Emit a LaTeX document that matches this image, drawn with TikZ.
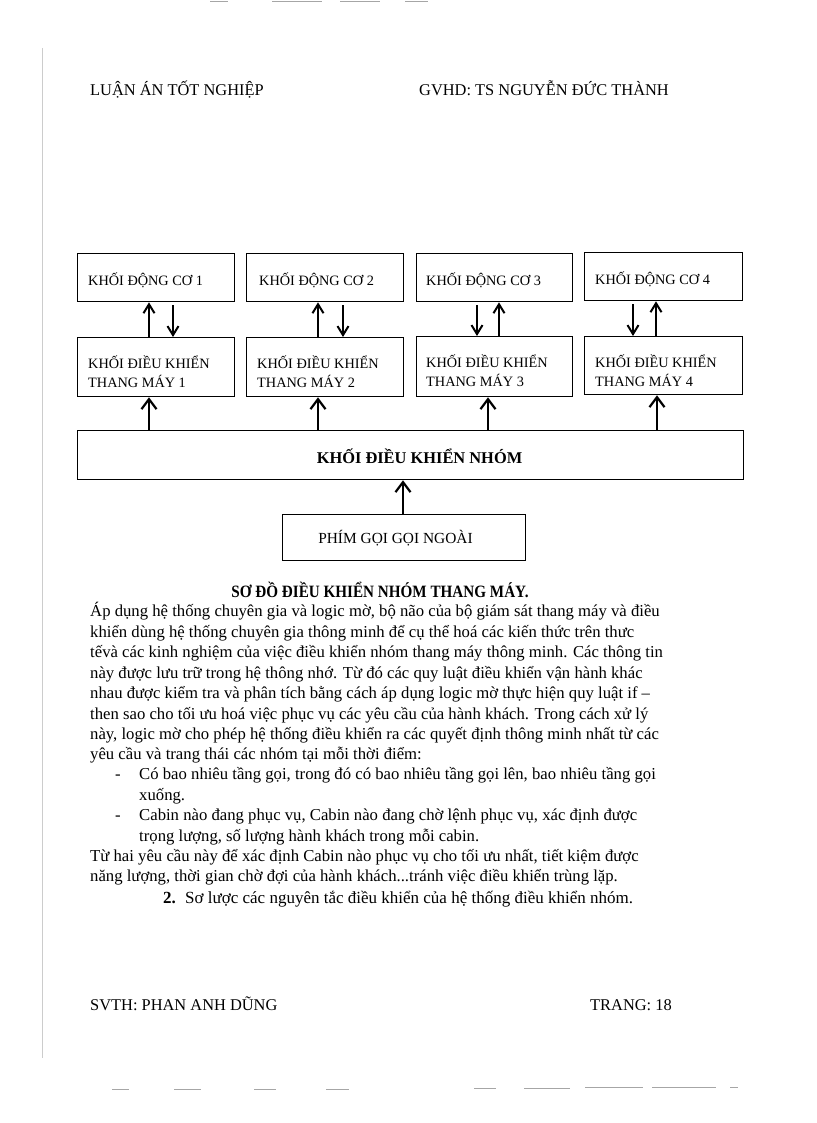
\documentclass[tikz,border=0pt]{standalone}
\usepackage{fontspec}
\setmainfont{Liberation Serif}
\usetikzlibrary{arrows.meta,calc}
\tikzset{
  box/.style={draw, line width=1.3pt, anchor=north west, inner sep=0pt},
  lbl/.style={anchor=base west, inner sep=0pt, align=left, font=\fontsize{14.3}{19}\selectfont},
  arr/.style={line width=2.6pt, -{Straight Barb[length=9pt,width=11pt,line width=2pt]}},
  garr/.style={line width=2.6pt, -{Straight Barb[length=10pt,width=15pt,line width=2.2pt]}},
  body/.style={anchor=base west, inner sep=0pt, font=\fontsize{16.7}{20.6}\selectfont},
  hdr/.style={anchor=base west, inner sep=0pt, font=\fontsize{16.4}{20}\selectfont},
  scan/.style={draw=black!35, line width=1pt},
}
\begin{document}
\begin{tikzpicture}[x=1pt,y=-1pt]
\useasboundingbox[fill=white] (0,0) rectangle (816,1123);
% scan artifacts
\draw[scan] (210,2) -- (228,2) (272,2) -- (322,2) (340,2) -- (380,2) (405,2) -- (428,2);
\draw[scan] (112,1089) -- (129,1089) (174,1089) -- (201,1089) (254,1089) -- (276,1089) (326,1089) -- (349,1089)
  (474,1088) -- (496,1088) (524,1088) -- (570,1088) (585,1087) -- (643,1087) (652,1087) -- (716,1087) (730,1087) -- (738,1087);
\draw[draw=black!20, line width=0.8pt] (42,48) -- (42,1058);
% header
\node[hdr] (h1) at (90,96) {LUẬN ÁN TỐT NGHIỆP};
\node[hdr] (h2) at (419,96) {GVHD: TS NGUYỄN ĐỨC THÀNH};
% motor blocks
\node[box, minimum width=157pt, minimum height=48pt] (m1) at (77,253) {};
\node[box, minimum width=157pt, minimum height=48pt] (m2) at (246,253) {};
\node[box, minimum width=156pt, minimum height=48pt] (m3) at (416,253) {};
\node[box, minimum width=158pt, minimum height=48pt] (m4) at (584,252) {};
\node[lbl] (m1t) at ($(m1.north west)+(11,32)$) {KHỐI ĐỘNG CƠ 1};
\node[lbl] (m2t) at ($(m2.north west)+(13,32)$) {KHỐI ĐỘNG CƠ 2};
\node[lbl] (m3t) at ($(m3.north west)+(10,32)$) {KHỐI ĐỘNG CƠ 3};
\node[lbl] (m4t) at ($(m4.north west)+(11,32)$) {KHỐI ĐỘNG CƠ 4};
% controller blocks
\node[box, minimum width=157pt, minimum height=59pt] (c1) at (77,337) {};
\node[box, minimum width=157pt, minimum height=59pt] (c2) at (246,337) {};
\node[box, minimum width=156pt, minimum height=60pt] (c3) at (416,336) {};
\node[box, minimum width=158pt, minimum height=58pt] (c4) at (584,336) {};
\node[lbl] (c1t) at ($(c1.north west)+(11,50)$) {KHỐI ĐIỀU KHIỂN\\THANG MÁY 1};
\node[lbl] (c2t) at ($(c2.north west)+(11,50)$) {KHỐI ĐIỀU KHIỂN\\THANG MÁY 2};
\node[lbl] (c3t) at ($(c3.north west)+(10,50)$) {KHỐI ĐIỀU KHIỂN\\THANG MÁY 3};
\node[lbl] (c4t) at ($(c4.north west)+(11,50)$) {KHỐI ĐIỀU KHIỂN\\THANG MÁY 4};
% group controller
\node[box, minimum width=666pt, minimum height=49pt] (g) at (77,430) {};
\node[anchor=base, inner sep=0pt, font=\bfseries\fontsize{16.4}{20}\selectfont] (gt) at (419.5,463) {KHỐI ĐIỀU KHIỂN NHÓM};
% external call buttons
\node[box, minimum width=243pt, minimum height=46pt] (p) at (282,514) {};
\node[anchor=base, inner sep=0pt, font=\fontsize{15.4}{18}\selectfont] (pt) at (395.5,543) {PHÍM GỌI GỌI NGOÀI};
% arrows between motor and controller
\draw[arr] ($(c1.north west)+(72,0)$) -- ($(m1.south west)+(72,0)$);
\draw[arr] ($(m1.south west)+(96,3)$) -- ($(c1.north west)+(96,0)$);
\draw[arr] ($(c2.north west)+(72,0)$) -- ($(m2.south west)+(72,0)$);
\draw[arr] ($(m2.south west)+(97,3)$) -- ($(c2.north west)+(97,0)$);
\draw[arr] ($(m3.south west)+(61,3)$) -- ($(c3.north west)+(61,0)$);
\draw[arr] ($(c3.north west)+(83,0)$) -- ($(m3.south west)+(83,0)$);
\draw[arr] ($(m4.south west)+(49,3)$) -- ($(c4.north west)+(49,0)$);
\draw[arr] ($(c4.north west)+(72,0)$) -- ($(m4.south west)+(72,0)$);
% arrows from group controller
\coordinate (u1) at ($(c1.south west)+(72,0)$);
\coordinate (u2) at ($(c2.south west)+(72,0)$);
\coordinate (u3) at ($(c3.south west)+(72,0)$);
\coordinate (u4) at ($(c4.south west)+(73,0)$);
\draw[garr] (g.north -| u1) -- (u1);
\draw[garr] (g.north -| u2) -- (u2);
\draw[garr] (g.north -| u3) -- (u3);
\draw[garr] (g.north -| u4) -- (u4);
\coordinate (pu) at ($(p.north west)+(121,0)$);
\draw[garr] (pu) -- (pu |- g.south);
% caption
\node[anchor=base, inner sep=0pt, font=\bfseries\fontsize{17.3}{20}\selectfont] (cap) at (380,597) {\scalebox{0.876}[1]{SƠ ĐỒ ĐIỀU KHIỂN NHÓM THANG MÁY.}};
% body text
\node[body] (t1) at (90,616) {Áp dụng hệ thống chuyên gia và logic mờ, bộ não của bộ giám sát thang máy và điều};
\node[body] (t2) at (90,637) {khiển dùng hệ thống chuyên gia thông minh để cụ thể hoá các kiến thức trên thưc};
\node[body] (t3) at (90,657) {tếvà các kinh nghiệm của việc điều khiển nhóm thang máy thông minh. Các thông tin};
\node[body] (t4) at (90,678) {này được lưu trữ trong hệ thông nhớ. Từ đó các quy luật điều khiển vận hành khác};
\node[body] (t5) at (90,698) {nhau được kiểm tra và phân tích bằng cách áp dụng logic mờ thực hiện quy luật if –};
\node[body] (t6) at (90,719) {then sao cho tối ưu hoá việc phục vụ các yêu cầu của hành khách. Trong cách xử lý};
\node[body] (t7) at (90,739) {này, logic mờ cho phép hệ thống điều khiển ra các quyết định thông minh nhất từ các};
\node[body] (t8) at (90,759) {yêu cầu và trang thái các nhóm tại mỗi thời điểm:};
\node[body] (d1) at (115,779) {-};
\node[body] (t9) at (139,779) {Có bao nhiêu tầng gọi, trong đó có bao nhiêu tầng gọi lên, bao nhiêu tầng gọi};
\node[body] (t10) at (139,800) {xuống.};
\node[body] (d2) at (115,820) {-};
\node[body] (t11) at (139,820) {Cabin nào đang phục vụ, Cabin nào đang chờ lệnh phục vụ, xác định được};
\node[body] (t12) at (139,841) {trọng lượng, số lượng hành khách trong mỗi cabin.};
\node[body] (t13) at (90,861) {Từ hai yêu cầu này để xác định Cabin nào phục vụ cho tối ưu nhất, tiết kiệm được};
\node[body] (t14) at (90,881) {năng lượng, thời gian chờ đợi của hành khách...tránh việc điều khiển trùng lặp.};
\node[body, font=\bfseries\fontsize{17}{20}\selectfont] (n2) at (163,903) {2.};
\node[body, font=\fontsize{17}{20}\selectfont] (t15) at (185,903) {Sơ lược các nguyên tắc điều khiển của hệ thống điều khiển nhóm.};
% footer
\node[hdr] (f1) at (90,1010) {SVTH: PHAN ANH DŨNG};
\node[hdr] (f2) at (590,1010) {TRANG: 18};
\end{tikzpicture}
\end{document}
